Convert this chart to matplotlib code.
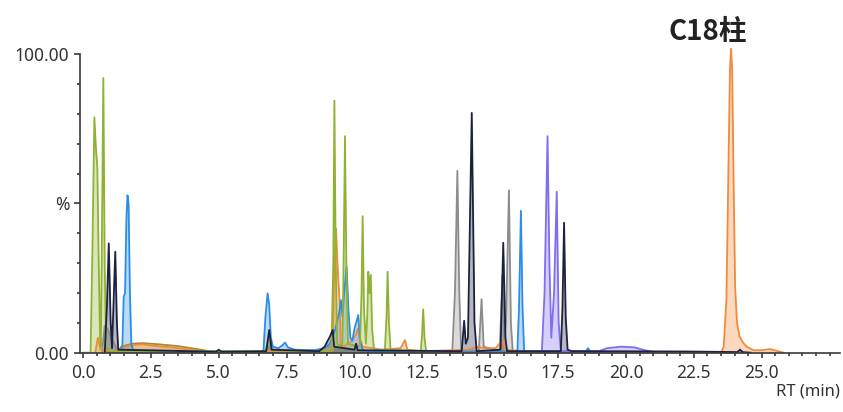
import matplotlib
matplotlib.use("Agg")
import matplotlib.pyplot as plt
from matplotlib.ticker import FixedLocator, MultipleLocator

plt.rcParams['font.family'] = ['Noto Sans', 'DejaVu Sans']

# retention time (min) / relative intensity (%) for each trace
green_rt = [0.0, 0.28, 0.34, 0.42, 0.48, 0.53, 0.58, 0.63, 0.66, 0.70, 0.75, 0.80, 0.85, 1.0,
            6.70, 6.86, 6.98, 9.15, 9.22, 9.26, 9.31, 9.36, 9.55, 9.60, 9.65, 9.70, 9.76,
            10.20, 10.26, 10.30, 10.35, 10.42, 10.47, 10.51, 10.55, 10.60, 10.65, 10.72,
            11.12, 11.18, 11.22, 11.27, 11.33, 12.44, 12.49, 12.53, 12.58, 12.64, 13.0]
green_int = [0, 0, 30, 78.8, 68, 62, 30, 5, 2, 40, 92, 30, 2, 0.5,
             0.5, 4, 0.8, 0.5, 30, 84.4, 30, 3, 2, 30, 72.5, 30, 3,
             2, 20, 45.7, 15, 3, 12, 27.1, 20, 26, 8, 1,
             1, 12, 27.1, 10, 1, 0.5, 6, 14.5, 5, 0.5, 0]

blue_rt = [1.35, 1.45, 1.50, 1.55, 1.60, 1.64, 1.68, 1.73, 1.78, 1.85, 6.60, 6.65, 6.72, 6.80,
           6.86, 6.92, 7.00, 7.20, 7.35, 7.44, 7.55, 7.80, 8.50, 8.90, 9.10, 9.30, 9.45, 9.50,
           9.56, 9.62, 9.71, 9.78, 9.85, 9.92, 10.00, 10.14, 10.20, 10.30, 10.50, 16.00, 16.06,
           16.13, 16.19, 16.25, 18.50, 18.60, 18.70, 19.0]
blue_int = [0.3, 2, 18.7, 20, 45, 52.7, 50, 20, 3, 0.8, 0.3, 1, 12, 19.9,
            16, 5, 2, 1.5, 2.5, 3.4, 1.8, 1, 0.8, 1.5, 3, 8, 14, 17.6,
            12, 20, 28.8, 14, 5, 4, 8, 12.6, 4, 1, 0.3, 0.3, 15,
            47.5, 15, 0.5, 0.3, 1.5, 0.3, 0]

navy_rt = [0.80, 0.88, 0.95, 1.02, 1.07, 1.12, 1.19, 1.25, 1.30, 4.90, 5.00, 5.10, 6.75, 6.86,
           6.95, 8.70, 8.90, 9.10, 9.20, 9.25, 10.00, 10.06, 10.12, 13.95, 14.04, 14.10, 14.18,
           14.32, 14.42, 14.50, 15.38, 15.48, 15.56, 15.62, 17.60, 17.66, 17.72, 17.78, 17.85,
           18.00, 22.20, 24.10, 24.20, 24.30, 24.60]
navy_int = [0, 15, 36.6, 10, 1.5, 15, 33.8, 10, 1, 0.3, 1, 0.3, 0.5, 7.6,
            1, 0.5, 2, 5.5, 7.6, 2, 1, 3, 0.8, 0.5, 10.7, 3, 5,
            80.3, 10, 0.5, 1, 36.8, 5, 0.5, 0.5, 15, 43.5, 12, 1,
            0.5, 0.4, 0.2, 1, 0.2, 0]

gray_rt = [0.70, 0.80, 0.90, 1.05, 1.15, 1.30, 13.60, 13.70, 13.79, 13.86, 13.93, 14.58, 14.68,
           14.76, 15.35, 15.45, 15.52, 15.58, 15.69, 15.76, 15.83]
gray_int = [0, 9, 8, 5, 3, 0, 0, 20, 60.9, 20, 0.5, 0.5, 17.9,
            2, 0.5, 26, 5, 10, 54.4, 10, 0.5]

orange_rt = [0.45, 0.55, 0.65, 1.20, 1.40, 1.80, 2.20, 2.60, 3.00, 3.50, 4.00, 4.50, 4.80,
             9.20, 9.26, 9.32, 9.40, 9.45, 9.49, 9.60, 9.90, 10.05, 10.12, 10.20, 10.30, 11.00,
             11.70, 11.86, 11.95, 12.50, 14.20, 14.50, 14.80, 15.20, 15.45, 15.55, 16.50,
             23.50, 23.60, 23.70, 23.77, 23.83, 23.87, 23.91, 23.96, 24.02, 24.09, 24.18,
             24.30, 24.45, 24.70, 25.00, 25.30, 25.60, 25.80]
orange_int = [0, 5, 1, 0.5, 1.5, 2.5, 2.8, 2.3, 2.0, 1.5, 1.0, 0.5, 0,
              1, 30, 41.6, 25, 17.6, 3, 2, 4, 6, 8, 5, 2, 1,
              1.5, 4.2, 1, 0.5, 1, 2, 1.5, 1.5, 4.2, 1, 0.3,
              0, 2, 18, 60, 95, 101.8, 95, 60, 22, 10, 5.5,
              3.5, 2, 0.8, 0.8, 1.2, 0.5, 0]

olive_rt = [1.30, 1.40, 1.80, 2.20, 2.80, 3.50, 4.20, 4.80]
olive_int = [0, 2, 3, 3.2, 2.8, 2.2, 1.2, 0.3]

purple_rt = [16.90, 17.00, 17.11, 17.18, 17.25, 17.35, 17.45, 17.52, 17.60, 19.00, 19.30, 19.80,
             20.30, 20.70, 21.00]
purple_int = [0, 20, 72.5, 30, 5, 20, 53.9, 10, 0.5, 0.5, 1.5, 2, 1.8, 0.8, 0.3]

traces = [
    (gray_rt, gray_int, '#8c8c8c'),
    (olive_rt, olive_int, '#a88a2c'),
    (orange_rt, orange_int, '#f28a3a'),
    (blue_rt, blue_int, '#2b8ee6'),
    (green_rt, green_int, '#8fb232'),
    (purple_rt, purple_int, '#7d6ff0'),
    (navy_rt, navy_int, '#1c2140'),
]

fig = plt.figure(figsize=(8.43, 4.12), dpi=100)
ax = fig.add_axes([0.0952, 0.1440, 0.9018, 0.7610])

for rt, inten, col in traces:
    ax.fill_between(rt, 0, inten, color=col, alpha=0.32, linewidth=0)
    ax.plot(rt, inten, color=col, linewidth=1.3, solid_joinstyle='round')

ax.set_xlim(-0.1, 27.9)
ax.set_ylim(0, 105)

for s in ['top', 'right']:
    ax.spines[s].set_visible(False)
for s in ['left', 'bottom']:
    ax.spines[s].set_color('#3a3a3a')
    ax.spines[s].set_linewidth(1.2)
ax.spines['left'].set_bounds(0, 100)

ax.xaxis.set_major_locator(FixedLocator([0, 2.5, 5, 7.5, 10, 12.5, 15, 17.5, 20, 22.5, 25]))
ax.xaxis.set_minor_locator(MultipleLocator(0.5))
ax.set_xticklabels(['0.0', '2.5', '5.0', '7.5', '10.0', '12.5', '15.0', '17.5', '20.0', '22.5', '25.0'])
ax.yaxis.set_major_locator(FixedLocator([0, 50, 100]))
ax.yaxis.set_minor_locator(FixedLocator([10, 20, 30, 40, 60, 70, 80, 90]))
ax.set_yticklabels(['0.00', '%', '100.00'])

ax.tick_params(axis='both', which='major', colors='#3a3a3a', labelcolor='#333333',
               labelsize=12.5, width=1.2)
ax.tick_params(axis='x', which='major', length=3.5, pad=5)
ax.tick_params(axis='y', which='major', length=4, pad=4)
ax.tick_params(axis='both', which='minor', colors='#3a3a3a', width=1.2, length=2.2)

fig.text(840 / 843, 1 - 391 / 412, 'RT (min)', ha='right', va='center',
         fontsize=12, color='#333333')
fig.text(708 / 843, 1 - 32 / 412, 'C18柱', ha='center', va='center', fontsize=20,
         fontweight='bold', color='#222222', family=['Noto Sans CJK SC', 'DejaVu Sans'])

fig.savefig('out.png', dpi=100)
